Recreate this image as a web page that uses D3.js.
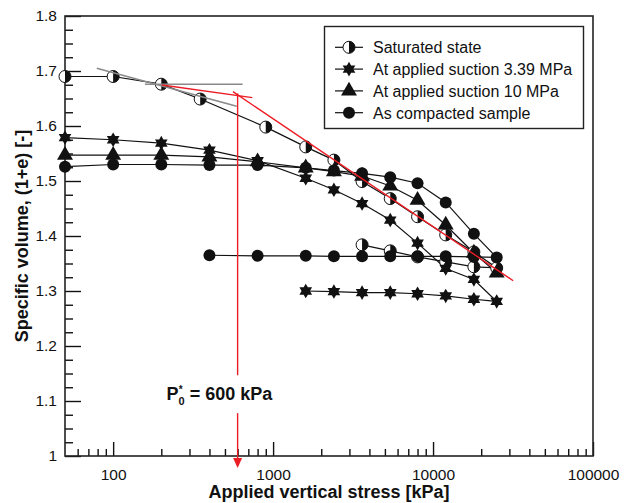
<!DOCTYPE html>
<html><head><meta charset="utf-8">
<script src="https://cdn.jsdelivr.net/npm/d3@7/dist/d3.min.js"></script>
<style>body{margin:0;background:#fff}svg{display:block}</style>
</head><body>
<svg id="c" width="634" height="503"></svg>
<script>
// ---------- data ----------
const seriesNames = ["Saturated state", "At applied suction 3.39 MPa", "At applied suction 10 MPa", "As compacted sample"];

const satStress = [50,100,200,350,900,1600,2400,3600,5400,8000,12000,18000,25000,18000,12000,8000,5400,3600];
const satV      = [1.690,1.690,1.676,1.649,1.598,1.562,1.538,1.499,1.468,1.435,1.402,1.371,1.342,1.344,1.353,1.362,1.373,1.384];

const s339Stress = [50,100,200,400,800,1600,2400,3600,5400,8000,12000,18000,25000,18000,12000,8000,5400,3600,2400,1600];
const s339V      = [1.579,1.575,1.569,1.556,1.537,1.505,1.484,1.459,1.429,1.387,1.341,1.321,1.281,1.285,1.291,1.295,1.297,1.297,1.299,1.300];

const s10Stress = [50,100,200,400,800,1600,2400,3600,5400,8000,12000,18000,25000];
const s10V      = [1.547,1.547,1.547,1.544,1.535,1.524,1.517,1.509,1.491,1.465,1.420,1.369,1.333];

const compStress = [50,100,200,400,800,1600,2400,3600,5400,8000,12000,18000,25000,18000,12000,8000,5400,3600,2400,1600,800,400];
const compV      = [1.526,1.530,1.530,1.529,1.529,1.524,1.519,1.514,1.507,1.496,1.461,1.404,1.361,1.362,1.363,1.363,1.363,1.363,1.363,1.364,1.364,1.365];

// construction lines
const grayTangentStress = [79, 592];   const grayTangentV = [1.705, 1.636];
const grayHorizStress   = [158, 645];  const grayHorizV   = [1.676, 1.676];
const redLine1Stress = [202, 741];     const redLine1V = [1.6745, 1.6515];
const redLine2Stress = [561, 31700];   const redLine2V = [1.6624, 1.3187];
const pStar = 600;
const arrowV = [1.659, 1.147, 1.078, 0.978]; // top, gap start, gap end, tip

const xTickValues = [100, 1000, 10000, 100000];
const xTickLabels = ["100", "1000", "10000", "100000"];
const yTickValues = [1, 1.1, 1.2, 1.3, 1.4, 1.5, 1.6, 1.7, 1.8];
const yTickLabels = ["1", "1.1", "1.2", "1.3", "1.4", "1.5", "1.6", "1.7", "1.8"];

// ---------- chart ----------
const svg = d3.select("#c");
const FONT = "'Liberation Sans', Arial, Helvetica, sans-serif";
const x = d3.scaleLog().domain([50, 100000]).range([65, 593]);
const y = d3.scaleLinear().domain([1, 1.8]).range([456, 16]);

// minor ticks
const xMinor = [];
[10, 100, 1000, 10000].forEach(dec => { for (let k = 2; k <= 9; k++) { const v = dec * k; if (v > 50 && v < 100000) xMinor.push(v); } });
const yMinor = d3.range(1.025, 1.8, 0.025).filter(v => Math.abs(v * 10 - Math.round(v * 10)) > 0.01);

const gx = svg.append("g").attr("transform", "translate(0,456)");
gx.call(d3.axisBottom(x).tickValues(xMinor).tickSize(-7).tickFormat(""));
gx.call(g => g.append("g").call(d3.axisBottom(x).tickValues(xTickValues).tickSize(-14).tickPadding(13)
  .tickFormat((d, i) => xTickLabels[i])));
const gy = svg.append("g").attr("transform", "translate(65,0)");
gy.call(d3.axisLeft(y).tickValues(yMinor).tickSize(-8).tickFormat(""));
gy.call(g => g.append("g").call(d3.axisLeft(y).tickValues(yTickValues).tickSize(-16).tickPadding(8)
  .tickFormat((d, i) => yTickLabels[i])));
svg.selectAll(".domain").remove();
svg.selectAll(".tick line").attr("stroke", "#111").attr("stroke-width", 1.4);
svg.selectAll(".tick text").attr("font-family", FONT).attr("font-size", "15.5px").attr("fill", "#111");

// frame
svg.append("rect").attr("x", x.range()[0]).attr("y", y.range()[1])
  .attr("width", x.range()[1] - x.range()[0]).attr("height", y.range()[0] - y.range()[1])
  .attr("fill", "none").attr("stroke", "#222").attr("stroke-width", 1.6);

// axis titles
svg.append("text").attr("x", (x.range()[0] + x.range()[1]) / 2).attr("y", 498)
  .attr("text-anchor", "middle").attr("font-family", FONT).attr("font-weight", "bold")
  .attr("font-size", "18px").attr("fill", "#111").text("Applied vertical stress [kPa]");
svg.append("text").attr("transform", `translate(28,${(y.range()[0] + y.range()[1]) / 2}) rotate(-90)`)
  .attr("text-anchor", "middle").attr("font-family", FONT).attr("font-weight", "bold")
  .attr("font-size", "18px").attr("fill", "#111").text("Specific volume, (1+e) [-]");

// markers
const R = 6;
function hexStarPath(r) {
  const pts = [];
  for (let i = 0; i < 12; i++) {
    const a = -Math.PI / 2 + i * Math.PI / 6;
    const rr = i % 2 === 0 ? r : r / Math.sqrt(3);
    pts.push([rr * Math.cos(a), rr * Math.sin(a)]);
  }
  return "M" + pts.map(p => p.join(",")).join("L") + "Z";
}
function drawMarker(g, type) {
  if (type === "half") {
    g.append("circle").attr("r", R).attr("fill", "#fff").attr("stroke", "#111").attr("stroke-width", 1);
    g.append("path").attr("d", `M0,${-R}A${R},${R} 0 0 1 0,${R}Z`).attr("fill", "#111");
  } else if (type === "star") {
    g.append("path").attr("d", hexStarPath(7.3)).attr("fill", "#111");
  } else if (type === "tri") {
    g.append("path").attr("d", d3.symbol(d3.symbolTriangle, 110)()).attr("fill", "#111");
  } else {
    g.append("circle").attr("r", R).attr("fill", "#111");
  }
}

const series = [
  { s: satStress, v: satV, m: "half" },
  { s: s339Stress, v: s339V, m: "star" },
  { s: s10Stress, v: s10V, m: "tri" },
  { s: compStress, v: compV, m: "circle" }
];
const line = d3.line().x(d => x(d[0])).y(d => y(d[1]));
series.forEach(se => {
  const pts = se.s.map((s, i) => [s, se.v[i]]);
  svg.append("path").attr("d", line(pts)).attr("fill", "none").attr("stroke", "#111").attr("stroke-width", 1.2);
});
series.forEach(se => {
  se.s.forEach((s, i) => {
    const g = svg.append("g").attr("transform", `translate(${x(s)},${y(se.v[i])})`);
    drawMarker(g, se.m);
  });
});

// gray construction lines
[[grayTangentStress, grayTangentV], [grayHorizStress, grayHorizV]].forEach(([s, v]) => {
  svg.append("path").attr("d", line(s.map((d, i) => [d, v[i]])))
    .attr("fill", "none").attr("stroke", "#8a8a8a").attr("stroke-width", 1.4);
});
// red lines
const RED = "#ec1c24";
[[redLine1Stress, redLine1V], [redLine2Stress, redLine2V]].forEach(([s, v]) => {
  svg.append("path").attr("d", line(s.map((d, i) => [d, v[i]])))
    .attr("fill", "none").attr("stroke", RED).attr("stroke-width", 1.4);
});
const px = x(pStar);
svg.append("line").attr("x1", px).attr("x2", px).attr("y1", y(arrowV[0])).attr("y2", y(arrowV[1]))
  .attr("stroke", RED).attr("stroke-width", 1.4);
svg.append("line").attr("x1", px).attr("x2", px).attr("y1", y(arrowV[2])).attr("y2", y(arrowV[3]) - 9)
  .attr("stroke", RED).attr("stroke-width", 1.4);
svg.append("path").attr("d", `M${px - 4.5},${y(arrowV[3]) - 10}L${px + 4.5},${y(arrowV[3]) - 10}L${px},${y(arrowV[3])}Z`)
  .attr("fill", RED);

// P*0 label
const lbl = svg.append("text").attr("x", px - 71).attr("y", y(1.102))
  .attr("font-family", FONT).attr("font-weight", "bold").attr("font-size", "18px").attr("fill", "#111");
lbl.append("tspan").text("P");
lbl.append("tspan").attr("dy", -7).attr("font-size", "10px").text("*");
lbl.append("tspan").attr("dx", -4).attr("dy", 12).attr("font-size", "11px").text("0");
lbl.append("tspan").attr("dy", -5).text(" = 600 kPa");

// legend
const lg = svg.append("g");
lg.append("rect").attr("x", 324.5).attr("y", 26.5).attr("width", 259).attr("height", 102)
  .attr("fill", "#fff").attr("stroke", "#222").attr("stroke-width", 1.4);
const legTypes = ["half", "star", "tri", "circle"];
seriesNames.forEach((name, i) => {
  const cy = 47.3 + i * 21.8;
  lg.append("line").attr("x1", 335).attr("x2", 363).attr("y1", cy).attr("y2", cy)
    .attr("stroke", "#111").attr("stroke-width", 1.2);
  drawMarker(lg.append("g").attr("transform", `translate(349,${cy})`), legTypes[i]);
  lg.append("text").attr("x", 373).attr("y", cy + 5.8).attr("font-family", FONT)
    .attr("font-size", "16px").attr("fill", "#111").text(name);
});
</script>
</body></html>
